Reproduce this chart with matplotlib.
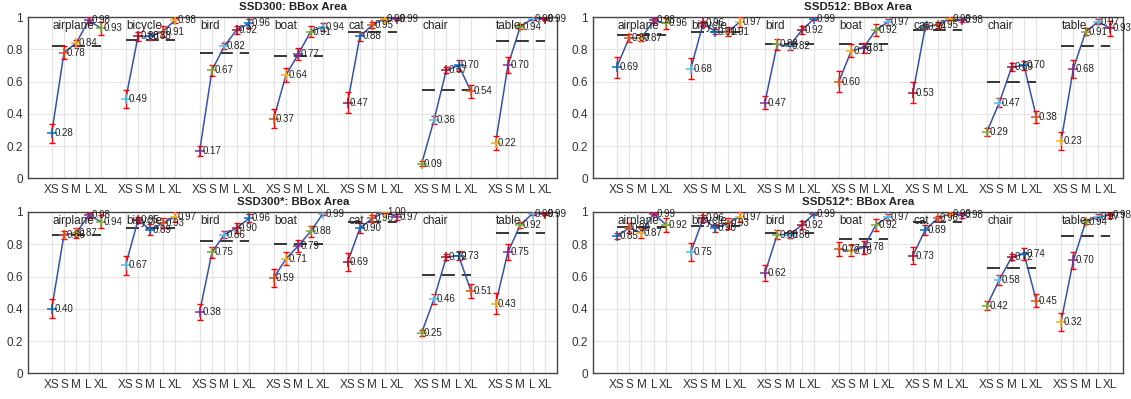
import matplotlib
matplotlib.use('Agg')
import matplotlib.pyplot as plt
import numpy as np

plt.rcParams['font.family'] = ['Liberation Sans', 'DejaVu Sans']

categories = ['airplane', 'bicycle', 'bird', 'boat', 'cat', 'chair', 'table']
sizes = ['XS', 'S', 'M', 'L', 'XL']
titles = ['SSD300: BBox Area', 'SSD512: BBox Area',
          'SSD300*: BBox Area', 'SSD512*: BBox Area']

# normalized AP per category and size
ssd300_vals = [[0.28, 0.78, 0.84, 0.98, 0.93],
               [0.49, 0.88, 0.88, 0.91, 0.98],
               [0.17, 0.67, 0.82, 0.92, 0.96],
               [0.37, 0.64, 0.77, 0.91, 0.94],
               [0.47, 0.88, 0.95, 0.99, 0.99],
               [0.09, 0.36, 0.67, 0.70, 0.54],
               [0.22, 0.70, 0.94, 0.99, 0.99]]
ssd300_err = [[0.06, 0.04, 0.02, 0.02, 0.04],
              [0.055, 0.03, 0.02, 0.035, 0.015],
              [0.03, 0.035, 0.02, 0.025, 0.025],
              [0.06, 0.045, 0.035, 0.035, 0.025],
              [0.065, 0.03, 0.02, 0.015, 0.01],
              [0.015, 0.025, 0.02, 0.035, 0.04],
              [0.045, 0.05, 0.015, 0.01, 0.01]]
ssd300_ref = [0.82, 0.86, 0.78, 0.76, 0.91, 0.55, 0.85]

ssd512_vals = [[0.69, 0.87, 0.87, 0.98, 0.96],
               [0.68, 0.96, 0.91, 0.91, 0.97],
               [0.47, 0.83, 0.82, 0.92, 0.99],
               [0.60, 0.79, 0.81, 0.92, 0.97],
               [0.53, 0.94, 0.95, 0.99, 0.98],
               [0.29, 0.47, 0.69, 0.70, 0.38],
               [0.23, 0.68, 0.91, 0.97, 0.93]]
ssd512_err = [[0.065, 0.025, 0.02, 0.015, 0.035],
              [0.065, 0.015, 0.015, 0.03, 0.03],
              [0.04, 0.035, 0.025, 0.025, 0.01],
              [0.065, 0.04, 0.03, 0.035, 0.02],
              [0.065, 0.015, 0.02, 0.01, 0.01],
              [0.025, 0.03, 0.025, 0.03, 0.035],
              [0.055, 0.055, 0.02, 0.015, 0.045]]
ssd512_ref = [0.89, 0.91, 0.83, 0.835, 0.92, 0.595, 0.82]

ssd300s_vals = [[0.40, 0.86, 0.87, 0.98, 0.94],
                [0.67, 0.95, 0.89, 0.93, 0.97],
                [0.38, 0.75, 0.86, 0.90, 0.96],
                [0.59, 0.71, 0.79, 0.88, 0.99],
                [0.69, 0.90, 0.96, 1.00, 0.97],
                [0.25, 0.46, 0.72, 0.73, 0.51],
                [0.43, 0.75, 0.92, 0.99, 0.99]]
ssd300s_err = [[0.06, 0.025, 0.03, 0.015, 0.04],
               [0.06, 0.02, 0.035, 0.03, 0.03],
               [0.05, 0.035, 0.02, 0.03, 0.025],
               [0.055, 0.04, 0.035, 0.035, 0.01],
               [0.055, 0.03, 0.02, 0.005, 0.02],
               [0.02, 0.03, 0.02, 0.03, 0.045],
               [0.065, 0.05, 0.02, 0.01, 0.01]]
ssd300s_ref = [0.857, 0.90, 0.82, 0.80, 0.935, 0.61, 0.87]

ssd512s_vals = [[0.85, 0.90, 0.87, 0.99, 0.92],
                [0.75, 0.96, 0.90, 0.93, 0.97],
                [0.62, 0.86, 0.86, 0.92, 0.99],
                [0.77, 0.76, 0.78, 0.92, 0.97],
                [0.73, 0.89, 0.96, 0.99, 0.98],
                [0.42, 0.58, 0.72, 0.74, 0.45],
                [0.32, 0.70, 0.94, 0.97, 0.98]]
ssd512s_err = [[0.02, 0.03, 0.03, 0.01, 0.045],
               [0.055, 0.02, 0.025, 0.035, 0.03],
               [0.05, 0.03, 0.02, 0.025, 0.01],
               [0.045, 0.035, 0.04, 0.035, 0.02],
               [0.055, 0.03, 0.015, 0.01, 0.015],
               [0.03, 0.03, 0.02, 0.035, 0.04],
               [0.055, 0.055, 0.015, 0.015, 0.015]]
ssd512s_ref = [0.905, 0.915, 0.87, 0.83, 0.935, 0.65, 0.85]

panels = [(ssd300_vals, ssd300_err, ssd300_ref),
          (ssd512_vals, ssd512_err, ssd512_ref),
          (ssd300s_vals, ssd300s_err, ssd300s_ref),
          (ssd512s_vals, ssd512s_err, ssd512s_ref)]

# matlab default color order, cycled over points
mcolors = ['#0072bd', '#d95319', '#edb120', '#7e2f8e',
           '#77ac30', '#4dbeee', '#a2142f']

fig = plt.figure(figsize=(11.31, 3.99), dpi=100)
boxes = [[0.025, 0.553, 0.4677, 0.4043],
         [0.5246, 0.553, 0.4681, 0.4043],
         [0.025, 0.0644, 0.4677, 0.4043],
         [0.5246, 0.0644, 0.4681, 0.4043]]

for box, title, (vals, errs, refs) in zip(boxes, titles, panels):
    ax = fig.add_axes(box)
    ticks = []
    ticklabels = []
    k = 0
    for i, cat in enumerate(categories):
        x = np.arange(5) + 1 + 6 * i
        ticks.extend(x)
        ticklabels.extend(sizes)
        v = np.array(vals[i])
        e = np.array(errs[i])
        ax.plot([x[0], x[-1]], [refs[i], refs[i]], color='black', lw=1.1,
                dashes=(8.5, 4.5), zorder=2)
        ax.plot(x, v, color='#3352b0', lw=1.1, zorder=3)
        ax.errorbar(x, v, yerr=e, fmt='none', ecolor='red', elinewidth=1,
                    capsize=2.5, capthick=1, zorder=4)
        for j in range(5):
            ax.plot(x[j], v[j], '+', color=mcolors[k % 7], ms=7.5, mew=1.1,
                    zorder=5)
            k += 1
            ax.text(x[j] + 0.2, v[j], '%.2f' % v[j], fontsize=7,
                    va='center', ha='left', color='#222222', zorder=6)
        ax.text(x[0] + 0.05, 0.945, cat, fontsize=8.5, va='center',
                ha='left', color='#222222', zorder=6)

    ax.set_xlim(-0.9, 42)
    ax.set_ylim(0, 1)
    ax.set_xticks(ticks)
    ax.set_xticklabels(ticklabels)
    ax.set_yticks([0, 0.2, 0.4, 0.6, 0.8, 1])
    ax.set_yticklabels(['0', '0.2', '0.4', '0.6', '0.8', '1'])
    ax.tick_params(length=0, labelsize=8.5, colors='#333333', pad=4)
    ax.grid(True, color='#e3e3e3', lw=0.8)
    ax.set_axisbelow(True)
    for s in ax.spines.values():
        s.set_color('#444444')
        s.set_linewidth(1)
    ax.set_title(title, fontsize=8.2, fontweight='bold', pad=5,
                 color='#222222')

fig.savefig('out.png', dpi=100)
